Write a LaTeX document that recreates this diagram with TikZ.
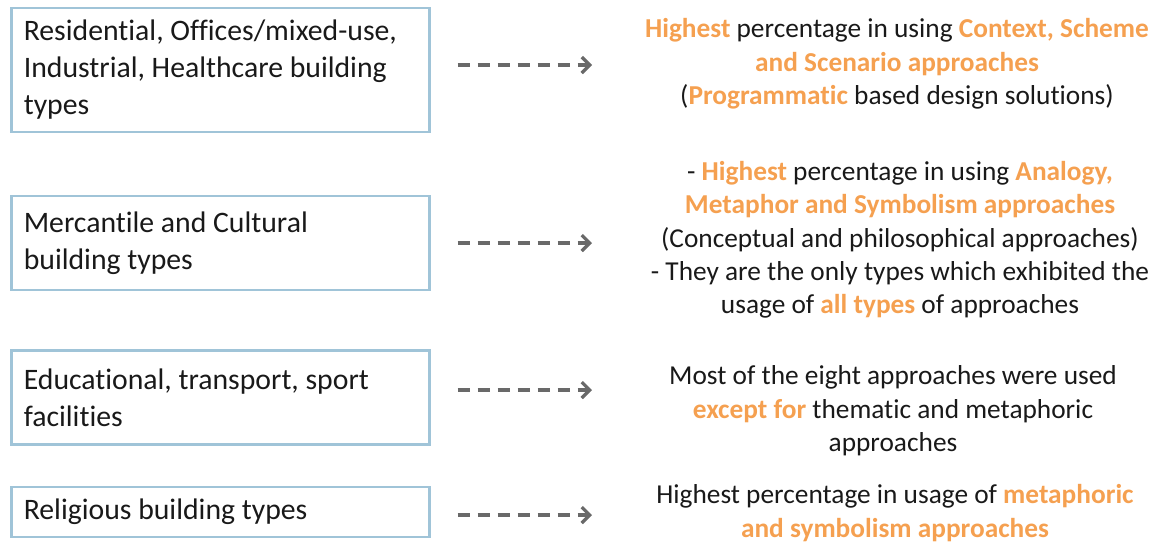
\documentclass[tikz,border=0pt]{standalone}
\usepackage{fontspec}
\setmainfont{Carlito}[Ligatures=NoCommon]
\usetikzlibrary{arrows.meta,positioning}

\definecolor{boxblue}{RGB}{160,196,216}
\definecolor{hlorange}{RGB}{245,160,80}
\definecolor{arrowgray}{RGB}{105,105,105}
\definecolor{txt}{RGB}{25,25,25}
\newcommand{\hl}[1]{\textcolor{hlorange}{\textbf{#1}}}

\begin{document}
\begin{tikzpicture}[x=0.75pt,y=-0.75pt,
    typebox/.style={rectangle, draw=boxblue, line width=2.2pt, anchor=west,
        minimum width=313.5pt, text width=295pt, inner xsep=9pt, align=flush left,
        text=txt, font=\fontsize{22.3}{27.75}\selectfont},
    note/.style={align=flush center, text=txt, font=\fontsize{20.5}{25}\selectfont},
    link/.style={arrowgray, line width=2.4pt, dash pattern=on 9pt off 6pt,
        -{Straight Barb[length=6pt,width=12pt,line width=2.4pt]}, shorten <=20pt}]
    \useasboundingbox (0,0) rectangle (1160,544);

    % building types
    \node[typebox, minimum height=93pt] (b1) at (10,70)
        {Residential, Offices/mixed-use,\\Industrial, Healthcare building\\types};
    \node[typebox, minimum height=70.5pt] (b2) at (10,243)
        {Mercantile and Cultural\\building types};
    \node[typebox, minimum height=71pt] (b3) at (10,397.5)
        {Educational, transport, sport\\facilities};
    \node[typebox, minimum height=37.5pt] (b4) at (10,512)
        {Religious building types};

    % findings
    \node[note] (n1) at (897,64)
        {\hl{Highest} percentage in using \hl{Context, Scheme}\\
         \hl{and Scenario approaches}\\
         (\hl{Programmatic} based design solutions)};
    \node[note] (n2) at (900,240)
        {- \hl{Highest} percentage in using \hl{Analogy,}\\
         \hl{Metaphor and Symbolism approaches}\\
         (Conceptual and philosophical approaches)\\
         - They are the only types which exhibited the\\
         usage of \hl{all types} of approaches};
    \node[note] (n3) at (893,411)
        {Most of the eight approaches were used\\
         \hl{except for} thematic and metaphoric\\
         approaches};
    \node[note] (n4) at (895,513)
        {Highest percentage in usage of \hl{metaphoric}\\
         \hl{and symbolism approaches}};

    % arrows
    \coordinate (e1) at (592,65);
    \coordinate (e2) at (592,243);
    \coordinate (e3) at (592,390);
    \coordinate (e4) at (592,515);
    \draw[link] (b1.east |- e1) -- (e1);
    \draw[link] (b2.east |- e2) -- (e2);
    \draw[link] (b3.east |- e3) -- (e3);
    \draw[link] (b4.east |- e4) -- (e4);
\end{tikzpicture}
\end{document}
